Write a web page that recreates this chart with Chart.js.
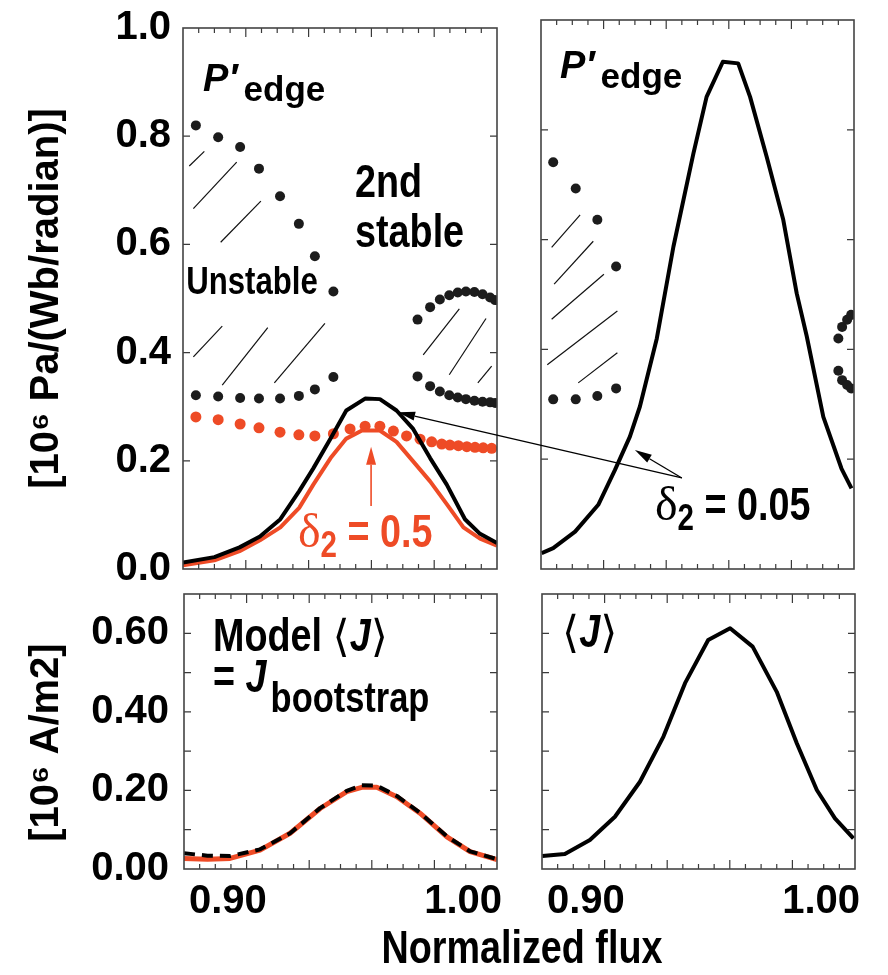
<!DOCTYPE html>
<html><head><meta charset="utf-8">
<script src="https://cdn.jsdelivr.net/npm/chart.js@4.4.1/dist/chart.umd.min.js"></script>
<style>
html,body{margin:0;padding:0;background:#fff;}
#wrap{position:relative;width:888px;height:975px;overflow:hidden;background:#fff;}
canvas{position:absolute;left:0;top:0;}
#xt{position:absolute;left:0;width:1044px;top:920px;text-align:center;font:bold 46px 'Liberation Sans',Arial,sans-serif;color:#000;white-space:nowrap;transform:scaleX(0.82);transform-origin:522px 0;}
</style></head><body>
<div id="wrap">
<canvas id="cTL" width="888" height="975"></canvas>
<canvas id="cTR" width="888" height="975"></canvas>
<canvas id="cBL" width="888" height="975"></canvas>
<canvas id="cBR" width="888" height="975"></canvas>
<div id="xt">Normalized flux</div>
</div>
<script>
// ---------------- data ----------------
// Top-left: P'edge, delta2 = 0.05 (black) and delta2 = 0.5 (red)
const fluxTLBlack = [0.900,0.910,0.918,0.9245,0.931,0.937,0.9415,0.947,0.952,0.958,0.9627,0.968,0.9733,0.9787,0.984,0.9898,0.9946,1.000];
const pTLBlack    = [0.012,0.022,0.040,0.060,0.092,0.144,0.186,0.241,0.293,0.315,0.314,0.293,0.259,0.205,0.156,0.092,0.065,0.048];
const fluxTLRed   = [0.900,0.910,0.918,0.9245,0.931,0.937,0.9415,0.947,0.952,0.957,0.9627,0.968,0.9733,0.9787,0.984,0.9893,0.9946,1.000];
const pTLRed      = [0.007,0.016,0.033,0.053,0.077,0.113,0.156,0.205,0.241,0.256,0.256,0.235,0.199,0.162,0.120,0.077,0.056,0.043];
// stability boundary for delta2 = 0.5 (red dots)
const fluxTLRedDots = [0.9041,0.9112,0.9182,0.9242,0.9309,0.9369,0.942,0.9479,0.9532,0.958,0.9627,0.967,0.9712,0.9755,0.9792,0.9824,0.985,0.9877,0.9904,0.993,0.9956,0.9983];
const pTLRedDots    = [0.281,0.276,0.268,0.261,0.253,0.248,0.246,0.250,0.259,0.264,0.264,0.255,0.246,0.240,0.235,0.231,0.229,0.228,0.226,0.225,0.224,0.223];
// stability boundary for delta2 = 0.05 (black dots)
const fluxTLDotsL   = [0.9041,0.9112,0.9182,0.9242,0.9309,0.9369,0.942,0.9479];
const pTLDotsLUp    = [0.820,0.798,0.780,0.740,0.689,0.638,0.578,0.513];
const pTLDotsLLow   = [0.321,0.319,0.316,0.315,0.315,0.320,0.332,0.355];
const fluxTLDotsR   = [0.9747,0.9787,0.9818,0.9848,0.9875,0.9901,0.9928,0.9954,0.9978,0.9994];
const pTLDotsRUp    = [0.461,0.484,0.498,0.506,0.511,0.513,0.512,0.508,0.502,0.497];
const pTLDotsRLow   = [0.356,0.338,0.328,0.321,0.317,0.314,0.311,0.309,0.308,0.307];
// hatch segments of unstable regions [x1,y1,x2,y2]
const hatchTL = [
  [0.9020,0.745,0.9068,0.772],[0.9033,0.666,0.9171,0.752],[0.9120,0.604,0.9248,0.680],
  [0.9033,0.392,0.9125,0.449],[0.9125,0.340,0.9270,0.446],[0.9291,0.344,0.9452,0.454],
  [0.9765,0.396,0.9880,0.481],[0.9848,0.359,0.9965,0.463],[0.9939,0.344,0.9983,0.375]
];
// Top-right
const fluxTR = [0.9002,0.9039,0.9109,0.9183,0.9236,0.9284,0.9316,0.937,0.9423,0.9487,0.9529,0.9581,0.963,0.9668,0.9721,0.9774,0.9817,0.9849,0.9902,0.996,0.9992];
const pTR    = [0.029,0.038,0.068,0.117,0.180,0.241,0.296,0.420,0.587,0.757,0.860,0.924,0.921,0.860,0.751,0.636,0.502,0.424,0.277,0.183,0.147];
const fluxTRDotsL = [0.9039,0.9111,0.918,0.924];
const pTRDotsLUp  = [0.741,0.693,0.636,0.551];
const pTRDotsLLow = [0.309,0.309,0.315,0.329];
const fluxTRDotsR = [0.995,0.9962,0.9978,0.9991];
const pTRDotsRUp  = [0.420,0.441,0.454,0.463];
const pTRDotsRLow = [0.361,0.344,0.335,0.329];
const hatchTR = [
  [0.9034,0.586,0.9125,0.645],[0.9042,0.519,0.9167,0.597],[0.9034,0.455,0.9201,0.537],
  [0.9020,0.372,0.9244,0.470],[0.9119,0.339,0.9244,0.394]
];
// Bottom-left: model <J> (red) and J bootstrap (black dashed)
const fluxBL   = [0.900,0.9075,0.9147,0.9243,0.9339,0.9435,0.952,0.9568,0.9616,0.968,0.9754,0.984,0.9914,1.000];
const jModel   = [0.027,0.025,0.027,0.048,0.091,0.154,0.197,0.208,0.208,0.184,0.142,0.082,0.044,0.024];
const jBoot    = [0.040,0.034,0.033,0.050,0.091,0.155,0.199,0.213,0.212,0.186,0.143,0.083,0.045,0.025];
// Bottom-right: <J>
const fluxBR = [0.9001,0.9073,0.9153,0.9233,0.9313,0.9388,0.9457,0.9531,0.9601,0.9673,0.975,0.9814,0.9878,0.9936,0.9995];
const jBR    = [0.033,0.038,0.074,0.133,0.222,0.337,0.473,0.583,0.613,0.566,0.451,0.320,0.201,0.129,0.078];
// axis ticks
const xTickLabels = [0.90, 1.00];
const yTicksTop = [0.0,0.2,0.4,0.6,0.8,1.0];
const yTicksBottom = [0.00,0.20,0.40,0.60];

// ---------------- styling ----------------
const RED = '#EE4B26';
const DOT = '#1c1c1c';
const SANS = "'Liberation Sans',Arial,sans-serif";
const SERIF = "'Liberation Serif','Times New Roman',serif";
const BRK = "'DejaVu Sans',sans-serif";
const NX = 0.82; // horizontal squeeze to mimic the condensed face of the original
Chart.defaults.color = '#000';
Chart.defaults.font.family = SANS;

const pts = (xs, ys) => xs.map((x, i) => ({x, y: ys[i]}));
const line = (xs, ys, color, w, dash) => ({data: pts(xs, ys), showLine: true, borderColor: color, borderWidth: w, borderDash: dash || [], pointRadius: 0, clip: 0, borderJoinStyle: 'round'});
const dots = (xs, ys, color, r) => ({data: pts(xs, ys), showLine: false, pointRadius: r, pointBackgroundColor: color, pointBorderWidth: 0, clip: 0});
const hatch = list => list.map(s => ({data: [{x: s[0], y: s[1]}, {x: s[2], y: s[3]}], showLine: true, borderColor: '#111', borderWidth: 1.2, pointRadius: 0, clip: 0}));

function drawRuns(ctx, x, y, runs) {
  ctx.textBaseline = 'alphabetic'; ctx.textAlign = 'left';
  for (const r of runs) {
    x += r.dx || 0;
    const sx = r.sx || 1;
    ctx.font = r.font; ctx.fillStyle = r.color || '#000';
    ctx.save(); ctx.translate(x, y + (r.dy || 0)); ctx.scale(sx, 1);
    ctx.fillText(r.text, 0, 0); ctx.restore();
    x += ctx.measureText(r.text).width * sx;
  }
}
function arrow(ctx, x1, y1, x2, y2, color, w, hl, hw) {
  const a = Math.atan2(y2 - y1, x2 - x1);
  const bx = x2 - hl * Math.cos(a), by = y2 - hl * Math.sin(a);
  ctx.strokeStyle = color; ctx.lineWidth = w;
  ctx.beginPath(); ctx.moveTo(x1, y1); ctx.lineTo(bx, by); ctx.stroke();
  ctx.fillStyle = color; ctx.beginPath(); ctx.moveTo(x2, y2);
  ctx.lineTo(bx + hw / 2 * Math.sin(a), by - hw / 2 * Math.cos(a));
  ctx.lineTo(bx - hw / 2 * Math.sin(a), by + hw / 2 * Math.cos(a));
  ctx.closePath(); ctx.fill();
}

const charts = {};
function framePlugin(yStep, yCount) {
  return {id: 'frame', afterDatasetsDraw(chart) {
    const {ctx, chartArea: a} = chart; const x = chart.scales.x, y = chart.scales.y;
    ctx.save();
    ctx.strokeStyle = '#3a3a3a'; ctx.lineWidth = 1.2; ctx.beginPath();
    for (let i = 1; i < 20; i++) {
      const px = x.getPixelForValue(0.9 + i * 0.005); const L = i % 4 === 0 ? 9 : 5;
      ctx.moveTo(px, a.bottom); ctx.lineTo(px, a.bottom - L);
      ctx.moveTo(px, a.top); ctx.lineTo(px, a.top + L);
    }
    for (let j = 1; j < yCount; j++) {
      const py = y.getPixelForValue(j * yStep);
      ctx.moveTo(a.left, py); ctx.lineTo(a.left + 7, py);
      ctx.moveTo(a.right, py); ctx.lineTo(a.right - 7, py);
    }
    ctx.stroke();
    ctx.lineWidth = 1.6; ctx.strokeStyle = '#444';
    ctx.strokeRect(a.left, a.top, a.right - a.left, a.bottom - a.top);
    ctx.restore();
  }};
}
function notesPlugin(texts, arrows) {
  return {id: 'notes', afterDraw(chart) {
    const ctx = chart.ctx; ctx.save();
    texts.forEach(t => drawRuns(ctx, chart.scales.x.getPixelForValue(t.at[0]), chart.scales.y.getPixelForValue(t.at[1]), t.runs));
    arrows.forEach(ar => {
      const c1 = charts[ar.fromChart] || chart, c2 = charts[ar.toChart] || chart;
      arrow(ctx, c1.scales.x.getPixelForValue(ar.from[0]), c1.scales.y.getPixelForValue(ar.from[1]),
            c2.scales.x.getPixelForValue(ar.to[0]), c2.scales.y.getPixelForValue(ar.to[1]), ar.color, ar.w, ar.hl, ar.hw);
    });
    ctx.restore();
  }};
}
const B46 = `bold 46px ${SANS}`;
const pEdge = [
  {text: 'P\u2032', font: `italic bold 38px ${SANS}`},
  {text: 'edge', font: `bold 35px ${SANS}`, dx: 6, dy: 10}
];
function delta(sub, val, color) {
  return [
    {text: '\u03b4', font: `48px ${SERIF}`, color},
    {text: sub, font: `bold 36px ${SANS}`, color, dy: 10, sx: NX},
    {text: ' = ' + val, font: B46, color, sx: NX}
  ];
}

function makeChart(id, datasets, pad, opt) {
  const yTicks = opt.yTicks;
  const cfg = {
    type: 'scatter',
    data: {datasets},
    options: {
      responsive: false, animation: false, events: [], devicePixelRatio: 1,
      layout: {padding: pad},
      plugins: {legend: {display: false}, tooltip: {enabled: false}},
      scales: {
        x: {
          type: 'linear', min: 0.9, max: 1.0, display: !!opt.xLabels,
          grid: {display: false, drawTicks: false}, border: {display: false},
          ticks: {stepSize: 0.1, autoSkip: false, maxRotation: 0, align: 'inner', labelOffset: 5, padding: 9,
                  font: {size: 40, weight: 'bold', family: SANS, lineHeight: 1.2}, color: '#000',
                  callback: v => xTickLabels.some(t => Math.abs(t - v) < 1e-6) ? Number(v).toFixed(2) : ''},
          afterFit: s => { if (opt.xLabels) s.height = 70; }
        },
        y: {
          type: 'linear', min: 0, max: opt.yMax, display: !!opt.yTitle,
          grid: {display: false, drawTicks: false}, border: {display: false},
          ticks: {stepSize: opt.yStep, padding: opt.yPad, font: {size: 40, weight: 'bold', family: SANS, lineHeight: 0.8}, color: '#000',
                  callback: v => { const m = yTicks.find(t => Math.abs(t - v) < 1e-6); return m === undefined ? '' : m.toFixed(opt.yDec); }},
          title: {display: !!opt.yTitle, text: opt.yTitle || '', color: '#000', font: {size: 40, weight: 'bold', family: SANS, lineHeight: 1.2}, padding: {top: 23, bottom: 0}},
          afterFit: s => { if (opt.yTitle) s.width = opt.yWidth; }
        }
      }
    },
    plugins: [framePlugin(opt.yStep, Math.round(opt.yMax / opt.yStep)), notesPlugin(opt.texts || [], opt.arrows || [])]
  };
  return new Chart(document.getElementById(id), cfg);
}

// Top-left
charts.TL = makeChart('cTL', [
  line(fluxTLBlack, pTLBlack, '#000', 4),
  line(fluxTLRed, pTLRed, RED, 4),
  dots(fluxTLRedDots, pTLRedDots, RED, 5.5),
  dots(fluxTLDotsL, pTLDotsLUp, DOT, 5),
  dots(fluxTLDotsL, pTLDotsLLow, DOT, 5),
  dots(fluxTLDotsR, pTLDotsRUp, DOT, 5),
  dots(fluxTLDotsR, pTLDotsRLow, DOT, 5),
  ...hatch(hatchTL)
], {left: 0, top: 20, right: 391, bottom: 406}, {
  yMax: 1.0, yStep: 0.2, yTicks: yTicksTop, yDec: 1, yPad: 12, yWidth: 183,
  yTitle: '[10\u2076 Pa/(Wb/radian)]',
  texts: [
    {at: [0.9064, 0.8834], runs: pEdge},
    {at: [0.9548, 0.6867], runs: [{text: '2nd', font: B46, sx: NX}]},
    {at: [0.9548, 0.5956], runs: [{text: 'stable', font: B46, sx: NX}]},
    {at: [0.9010, 0.5082], runs: [{text: 'Unstable', font: `bold 38px ${SANS}`, sx: NX}]},
    {at: [0.9366, 0.0401], runs: delta('2', '0.5', RED)}
  ],
  arrows: [{from: [0.9599, 0.1166], to: [0.9599, 0.2259], color: RED, w: 1.6, hl: 18, hw: 10}]
});

// Top-right
charts.TR = makeChart('cTR', [
  line(fluxTR, pTR, '#000', 4),
  dots(fluxTRDotsL, pTRDotsLUp, DOT, 5),
  dots(fluxTRDotsL, pTRDotsLLow, DOT, 5),
  dots(fluxTRDotsR, pTRDotsRUp, DOT, 5),
  dots(fluxTRDotsR, pTRDotsRLow, DOT, 5),
  ...hatch(hatchTR)
], {left: 541, top: 20, right: 34, bottom: 406}, {
  yMax: 1.0, yStep: 0.2, yTicks: yTicksTop, yDec: 1,
  texts: [
    {at: [0.9061, 0.8944], runs: pEdge},
    {at: [0.9364, 0.0893], runs: delta('2', '0.05', '#000')}
  ],
  arrows: [
    {from: [0.945, 0.1658], to: [0.9685, 0.2896], toChart: 'TL', color: '#000', w: 1.3, hl: 17, hw: 9},
    {from: [0.945, 0.1658], to: [0.930, 0.2168], color: '#000', w: 1.3, hl: 17, hw: 9}
  ]
});

// Bottom-left
charts.BL = makeChart('cBL', [
  line(fluxBL, jBoot, '#000', 4, [11, 7]),
  line(fluxBL, jModel, RED, 5)
], {left: 0, top: 594, right: 391, bottom: 36}, {
  yMax: 0.7, yStep: 0.1, yTicks: yTicksBottom, yDec: 2, yPad: 15, yWidth: 184,
  yTitle: '[10\u2076 A/m2]  ', xLabels: true,
  texts: [
    {at: [0.9093, 0.5547], runs: [
      {text: 'Model ', font: B46, sx: NX},
      {text: '\u27e8', font: `44px ${BRK}`},
      {text: 'J', font: `italic bold 46px ${SANS}`, sx: NX},
      {text: '\u27e9', font: `44px ${BRK}`}]},
    {at: [0.9093, 0.4504], runs: [
      {text: '= ', font: B46, sx: NX},
      {text: 'J', font: `italic bold 46px ${SANS}`, sx: NX},
      {text: 'bootstrap', font: `bold 42px ${SANS}`, dx: 4, dy: 20, sx: NX}]}
  ]
});

// Bottom-right
charts.BR = makeChart('cBR', [
  line(fluxBR, jBR, '#000', 4)
], {left: 542, top: 594, right: 33, bottom: 36}, {
  yMax: 0.7, yStep: 0.1, yTicks: yTicksBottom, yDec: 2, xLabels: true,
  texts: [
    {at: [0.9064, 0.5649], runs: [
      {text: '\u27e8', font: `44px ${BRK}`},
      {text: 'J', font: `italic bold 46px ${SANS}`, sx: NX},
      {text: '\u27e9', font: `44px ${BRK}`}]}
  ]
});
</script>
</body></html>
